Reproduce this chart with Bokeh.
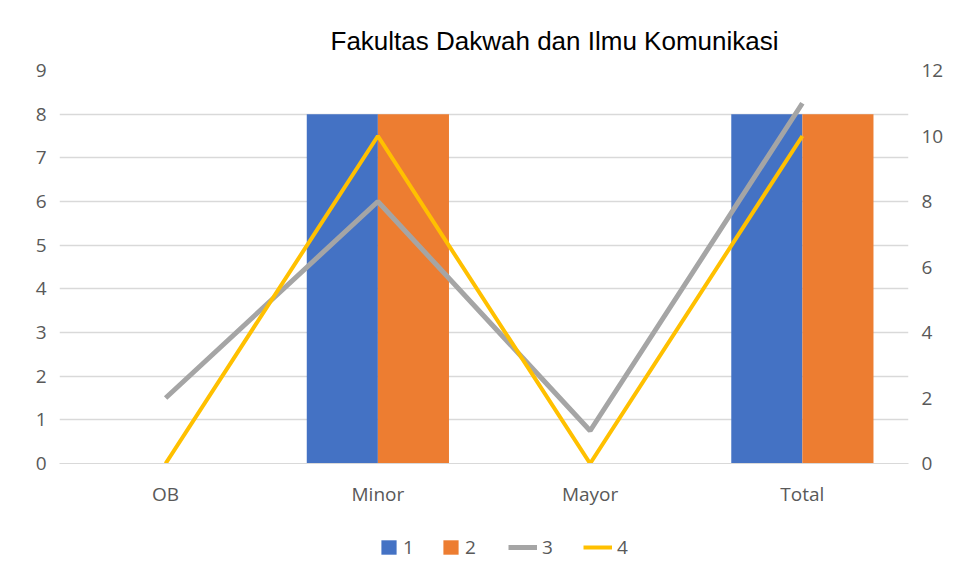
from bokeh.plotting import figure
from bokeh.models import (ColumnDataSource, Range1d, LinearAxis, FactorRange,
                          Legend, LegendItem, FixedTicker, Title)
from bokeh.layouts import column
from bokeh.transform import dodge
from bokeh.embed import file_html
from bokeh.resources import INLINE

categories = ["OB", "Minor", "Mayor", "Total"]
series_names = ["1", "2", "3", "4"]
series1 = [0, 8, 0, 8]
series2 = [0, 8, 0, 8]
series3 = [2, 8, 1, 11]
series4 = [0, 10, 0, 10]
left_ticks = list(range(0, 10))
right_ticks = [0, 2, 4, 6, 8, 10, 12]

BLUE, ORANGE, LGRAY, YELLOW = "#4472C4", "#ED7D31", "#A5A5A5", "#FFC000"
FONT = "Open Sans"
GRAY = "#595959"
FS = "19px"

src = ColumnDataSource(dict(cat=categories, s1=series1, s2=series2, s3=series3, s4=series4))


def add_series(fig, y_range_name_lines, bar_width=0.335):
    b1 = fig.vbar(x=dodge("cat", -0.1675, range=fig.x_range), top="s1", width=bar_width, source=src,
                  fill_color=BLUE, line_color=None)
    b2 = fig.vbar(x=dodge("cat", 0.1675, range=fig.x_range), top="s2", width=bar_width, source=src,
                  fill_color=ORANGE, line_color=None)
    kw = {} if y_range_name_lines is None else {"y_range_name": y_range_name_lines}
    l3 = fig.line(x="cat", y="s3", source=src, line_color=LGRAY, line_width=5, **kw)
    l4 = fig.line(x="cat", y="s4", source=src, line_color=YELLOW, line_width=4, **kw)
    return b1, b2, l3, l4


p = figure(width=952, height=509, x_range=FactorRange(*categories, range_padding=0),
           y_range=Range1d(0, 9), output_backend="svg", toolbar_location=None,
           min_border_left=59, min_border_right=44, min_border_top=70, min_border_bottom=10)
p.outline_line_color = None
p.border_fill_color = "white"
p.background_fill_color = "white"
p.extra_y_ranges = {"right": Range1d(0, 12)}
add_series(p, "right")

p.yaxis.ticker = FixedTicker(ticks=left_ticks)
p.yaxis.axis_line_color = None
p.yaxis.major_tick_line_color = None
p.yaxis.minor_tick_line_color = None
p.yaxis.major_tick_out = 0
p.yaxis.major_label_text_font = FONT
p.yaxis.major_label_text_font_size = FS
p.yaxis.major_label_text_color = GRAY
p.yaxis.major_label_standoff = 13

ra = LinearAxis(y_range_name="right", ticker=FixedTicker(ticks=right_ticks))
ra.axis_line_color = None
ra.major_tick_line_color = None
ra.minor_tick_line_color = None
ra.major_tick_out = 0
ra.major_label_text_font = FONT
ra.major_label_text_font_size = FS
ra.major_label_text_color = GRAY
ra.major_label_standoff = 13
p.add_layout(ra, "right")

p.xaxis.axis_line_color = "#D9D9D9"
p.xaxis.major_tick_line_color = None
p.xaxis.minor_tick_line_color = None
p.xaxis.major_tick_out = 0
p.xaxis.major_label_text_font = FONT
p.xaxis.major_label_text_font_size = FS
p.xaxis.major_label_text_color = GRAY
p.xaxis.major_label_standoff = 17

p.xgrid.grid_line_color = None
p.ygrid.grid_line_color = "#D9D9D9"
p.ygrid.grid_line_width = 1.5

t = Title(text="Fakultas Dakwah dan Ilmu Komunikasi", align="left", offset=271,
          text_font="Liberation Sans", text_font_size="26px", text_font_style="normal",
          text_color="#000000", standoff=29)
p.add_layout(t, "above")

# legend strip below the chart (same series, zero-width bars and lines out of view; only legends show)
lg = figure(width=952, height=70, x_range=FactorRange(*categories, range_padding=0),
            y_range=Range1d(-1000, -999), output_backend="svg", toolbar_location=None,
            min_border_left=0, min_border_right=0, min_border_top=0, min_border_bottom=0)
lg.axis.visible = False
lg.grid.grid_line_color = None
lg.outline_line_color = None
r1, r2, r3, r4 = add_series(lg, None, bar_width=0)

common = dict(orientation="horizontal", label_text_font=FONT, label_text_font_size=FS,
              label_text_color=GRAY, label_standoff=5, border_line_color=None,
              background_fill_alpha=0, margin=0, padding=0, glyph_height=18)
leg_bars = Legend(items=[LegendItem(label=series_names[0], renderers=[r1]),
                         LegendItem(label=series_names[1], renderers=[r2])],
                  location=(320, 19), glyph_width=19, spacing=18, **common)
leg_lines = Legend(items=[LegendItem(label=series_names[2], renderers=[r3]),
                          LegendItem(label=series_names[3], renderers=[r4])],
                   location=(449, 19), glyph_width=29, spacing=21, **common)
lg.add_layout(leg_bars, "center")
lg.add_layout(leg_lines, "center")

layout = column(p, lg, spacing=0)
open("out.html", "w").write(file_html(layout, INLINE))
